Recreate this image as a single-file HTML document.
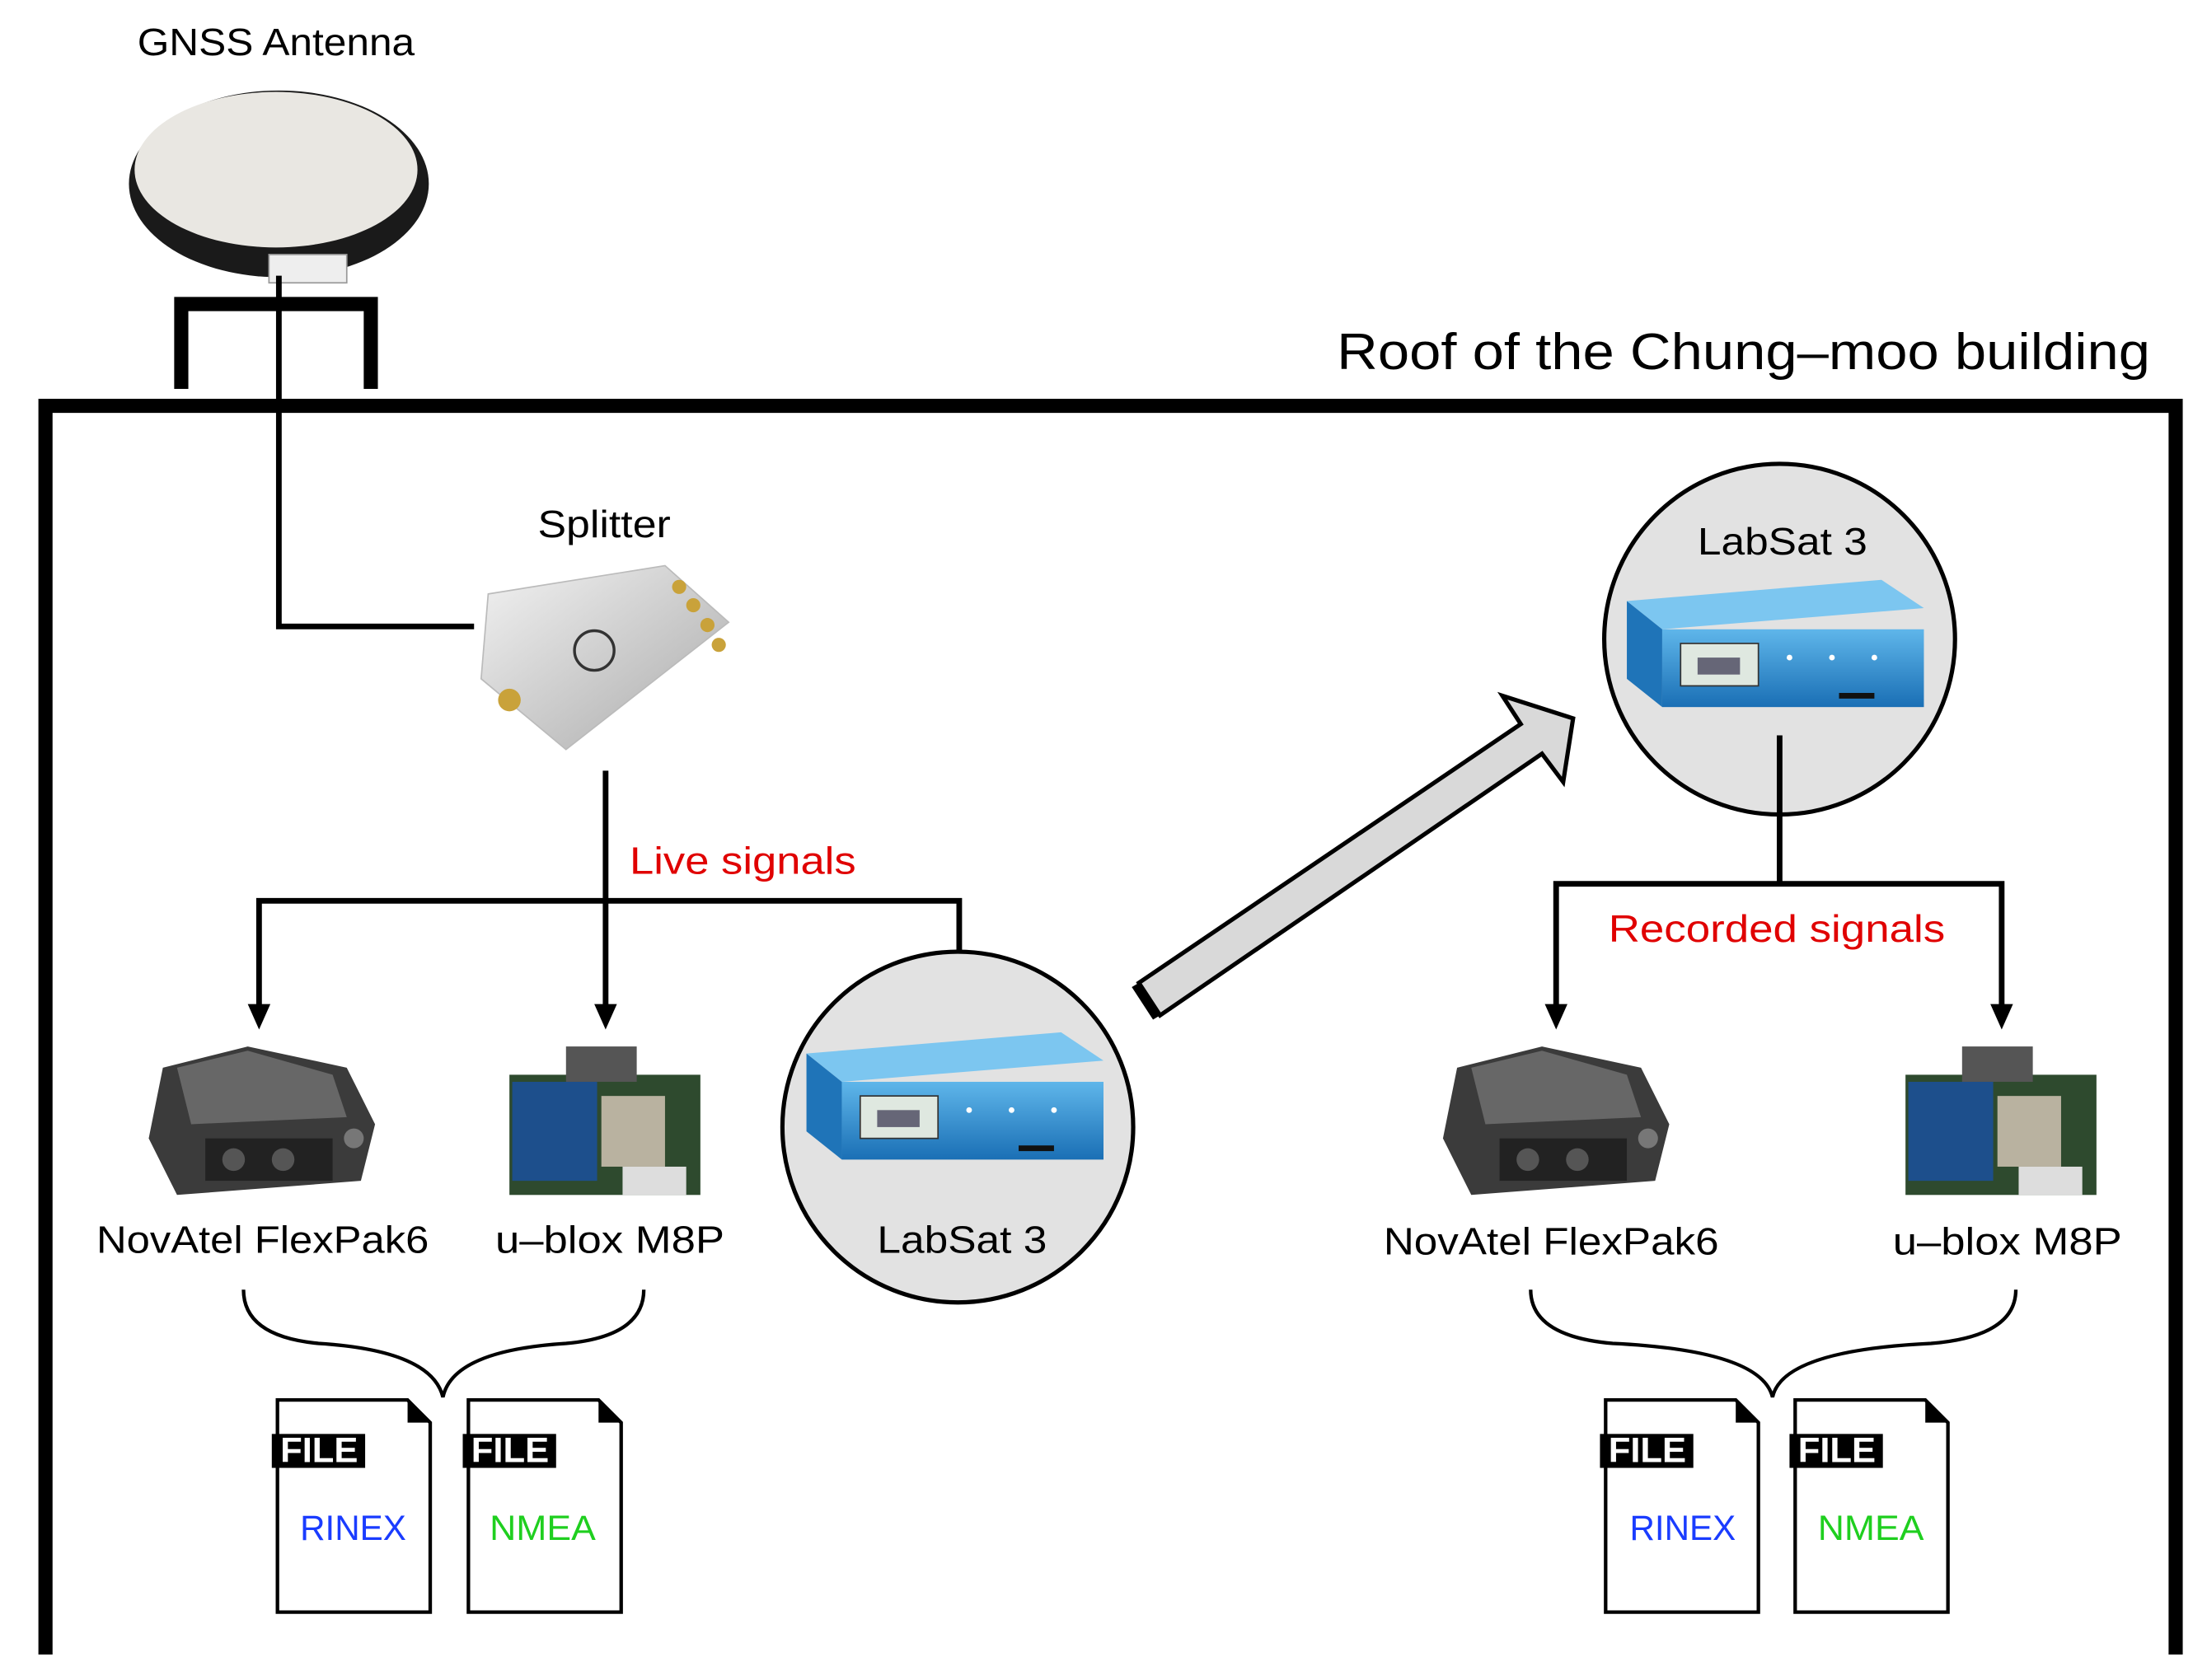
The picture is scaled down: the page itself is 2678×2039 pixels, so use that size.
<!DOCTYPE html>
<html><head><meta charset="utf-8"><style>
html,body{margin:0;padding:0;background:#fff;}
svg{display:block;}
text{font-family:"Liberation Sans",Arial,sans-serif;}
</style></head><body>
<svg width="2678" height="2039" viewBox="0 0 1560 1188" xmlns="http://www.w3.org/2000/svg">
<defs>
<linearGradient id="met" x1="0" y1="0" x2="1" y2="1"><stop offset="0" stop-color="#f2f2f2"/><stop offset="1" stop-color="#a9a9a9"/></linearGradient>
<linearGradient id="blu" x1="0" y1="0" x2="0" y2="1"><stop offset="0" stop-color="#5fb6ea"/><stop offset="1" stop-color="#1a6fb5"/></linearGradient>
<g id="labsat">
<polygon points="-100,-45 80,-60 110,-40 -75,-25" fill="#7cc6f0"/>
<polygon points="-100,-45 -75,-25 -75,30 -100,10" fill="#1f74b8"/>
<rect x="-75" y="-25" width="185" height="55" fill="url(#blu)"/>
<rect x="-62" y="-15" width="55" height="30" fill="#dfe8e0" stroke="#333"/>
<rect x="-50" y="-5" width="30" height="12" fill="#667"/>
<circle cx="15" cy="-5" r="2" fill="#fff"/><circle cx="45" cy="-5" r="2" fill="#fff"/><circle cx="75" cy="-5" r="2" fill="#fff"/>
<rect x="50" y="20" width="25" height="4" fill="#111"/>
</g>
<g id="novatel">
<polygon points="10,20 70,5 140,20 160,60 150,100 20,110 0,70" fill="#3b3b3b"/>
<polygon points="20,20 70,8 130,25 140,55 30,60" fill="#6d6d6d" opacity="0.9"/>
<rect x="40" y="70" width="90" height="30" fill="#222"/>
<circle cx="60" cy="85" r="8" fill="#555"/><circle cx="95" cy="85" r="8" fill="#555"/><circle cx="145" cy="70" r="7" fill="#777"/>
</g>
<g id="ublox">
<rect x="0" y="20" width="135" height="85" fill="#2e4a2e"/>
<rect x="40" y="0" width="50" height="25" fill="#555"/>
<rect x="2" y="25" width="60" height="70" fill="#1d4f8c"/>
<rect x="65" y="35" width="45" height="50" fill="#b9b2a0"/>
<rect x="80" y="85" width="45" height="20" fill="#ddd"/>
</g>
<g id="file">
<path d="M0,0 H92 L108,16 V150 H0 Z" fill="#fff" stroke="#000" stroke-width="2.5"/>
<polygon points="92,0 108,16 92,16" fill="#000"/>
<rect x="-4" y="24" width="66" height="24" fill="#000"/>
</g>
</defs>
<g lengthAdjust="spacingAndGlyphs">
<text x="97" y="39" font-size="27" textLength="196" lengthAdjust="spacingAndGlyphs">GNSS Antenna</text>
<ellipse cx="197" cy="130" rx="106" ry="66" fill="#1a1a1a"/>
<ellipse cx="195" cy="120" rx="100" ry="55" fill="#e9e7e2"/>
<rect x="190" y="180" width="55" height="20" fill="#eee" stroke="#999"/>
<path d="M128,275 V215 H262 V275" fill="none" stroke="#000" stroke-width="10"/>
<path d="M197,195 V443 H335" fill="none" stroke="#000" stroke-width="4"/>
<path d="M32,1170 V287 H1538 V1170" fill="none" stroke="#000" stroke-width="10"/>
<text x="945" y="261" font-size="36" textLength="575" lengthAdjust="spacingAndGlyphs">Roof of the Chung–moo building</text>
<text x="380" y="380" font-size="27" textLength="94" lengthAdjust="spacingAndGlyphs">Splitter</text>
<polygon points="345,420 470,400 515,440 400,530 340,480" fill="url(#met)" stroke="#bbb"/>
<circle cx="420" cy="460" r="14" fill="none" stroke="#333" stroke-width="2"/>
<circle cx="360" cy="495" r="8" fill="#c9a23a"/>
<circle cx="480" cy="415" r="5" fill="#c9a23a"/><circle cx="490" cy="428" r="5" fill="#c9a23a"/><circle cx="500" cy="442" r="5" fill="#c9a23a"/><circle cx="508" cy="456" r="5" fill="#c9a23a"/>
<g stroke="#000" stroke-width="4" fill="none">
<path d="M428,545 V712"/><path d="M183,712 V637 H678 V712"/>
</g>
<g fill="#000"><polygon points="175,710 191,710 183,728"/><polygon points="420,710 436,710 428,728"/><polygon points="670,710 686,710 678,728"/></g>
<text x="445" y="618" font-size="27" fill="#e00000" textLength="160" lengthAdjust="spacingAndGlyphs">Live signals</text>
<use href="#novatel" x="105" y="735"/>
<use href="#ublox" x="360" y="740"/>
<text x="68" y="886" font-size="27" textLength="235" lengthAdjust="spacingAndGlyphs">NovAtel FlexPak6</text>
<text x="350" y="886" font-size="27" textLength="162" lengthAdjust="spacingAndGlyphs">u–blox M8P</text>
<circle cx="677" cy="797" r="124" fill="#e2e2e2" stroke="#000" stroke-width="3"/>
<use href="#labsat" x="670" y="790"/>
<text x="620" y="886" font-size="27" textLength="120" lengthAdjust="spacingAndGlyphs">LabSat 3</text>
<polygon points="805,695 1075,512 1062,492 1112,508 1105,553 1090,533 820,718" fill="#d9d9d9" stroke="#000" stroke-width="3"/>
<polygon points="805,695 820,718 815,721 800,698" fill="#000"/>
<circle cx="1258" cy="452" r="124" fill="#e2e2e2" stroke="#000" stroke-width="3"/>
<text x="1200" y="392" font-size="27" textLength="120" lengthAdjust="spacingAndGlyphs">LabSat 3</text>
<use href="#labsat" x="1250" y="470"/>
<g stroke="#000" stroke-width="4" fill="none">
<path d="M1258,520 V625"/><path d="M1100,712 V625 H1415 V712"/>
</g>
<g fill="#000"><polygon points="1092,710 1108,710 1100,728"/><polygon points="1407,710 1423,710 1415,728"/></g>
<text x="1137" y="666" font-size="27" fill="#e00000" textLength="238" lengthAdjust="spacingAndGlyphs">Recorded signals</text>
<use href="#novatel" x="1020" y="735"/>
<use href="#ublox" x="1347" y="740"/>
<text x="978" y="887" font-size="27" textLength="237" lengthAdjust="spacingAndGlyphs">NovAtel FlexPak6</text>
<text x="1338" y="887" font-size="27" textLength="162" lengthAdjust="spacingAndGlyphs">u–blox M8P</text>
<path d="M172,912 Q172,945 225,950 Q305,955 313,988 Q320,955 400,950 Q455,945 455,912" fill="none" stroke="#000" stroke-width="2.5"/>
<path d="M1082,912 Q1082,945 1140,950 Q1245,955 1253,988 Q1260,955 1365,950 Q1425,945 1425,912" fill="none" stroke="#000" stroke-width="2.5"/>
<g font-size="25">
<use href="#file" x="196" y="990"/><text x="198" y="1034" fill="#fff" font-weight="bold" textLength="55" lengthAdjust="spacingAndGlyphs">FILE</text><text x="212" y="1089" fill="#1a3cff" textLength="75" lengthAdjust="spacingAndGlyphs">RINEX</text>
<use href="#file" x="331" y="990"/><text x="333" y="1034" fill="#fff" font-weight="bold" textLength="55" lengthAdjust="spacingAndGlyphs">FILE</text><text x="346" y="1089" fill="#1fcf1f" textLength="75" lengthAdjust="spacingAndGlyphs">NMEA</text>
<use href="#file" x="1135" y="990"/><text x="1137" y="1034" fill="#fff" font-weight="bold" textLength="55" lengthAdjust="spacingAndGlyphs">FILE</text><text x="1152" y="1089" fill="#1a3cff" textLength="75" lengthAdjust="spacingAndGlyphs">RINEX</text>
<use href="#file" x="1269" y="990"/><text x="1271" y="1034" fill="#fff" font-weight="bold" textLength="55" lengthAdjust="spacingAndGlyphs">FILE</text><text x="1285" y="1089" fill="#1fcf1f" textLength="75" lengthAdjust="spacingAndGlyphs">NMEA</text>
</g>
</g>
</svg>
</body></html>
